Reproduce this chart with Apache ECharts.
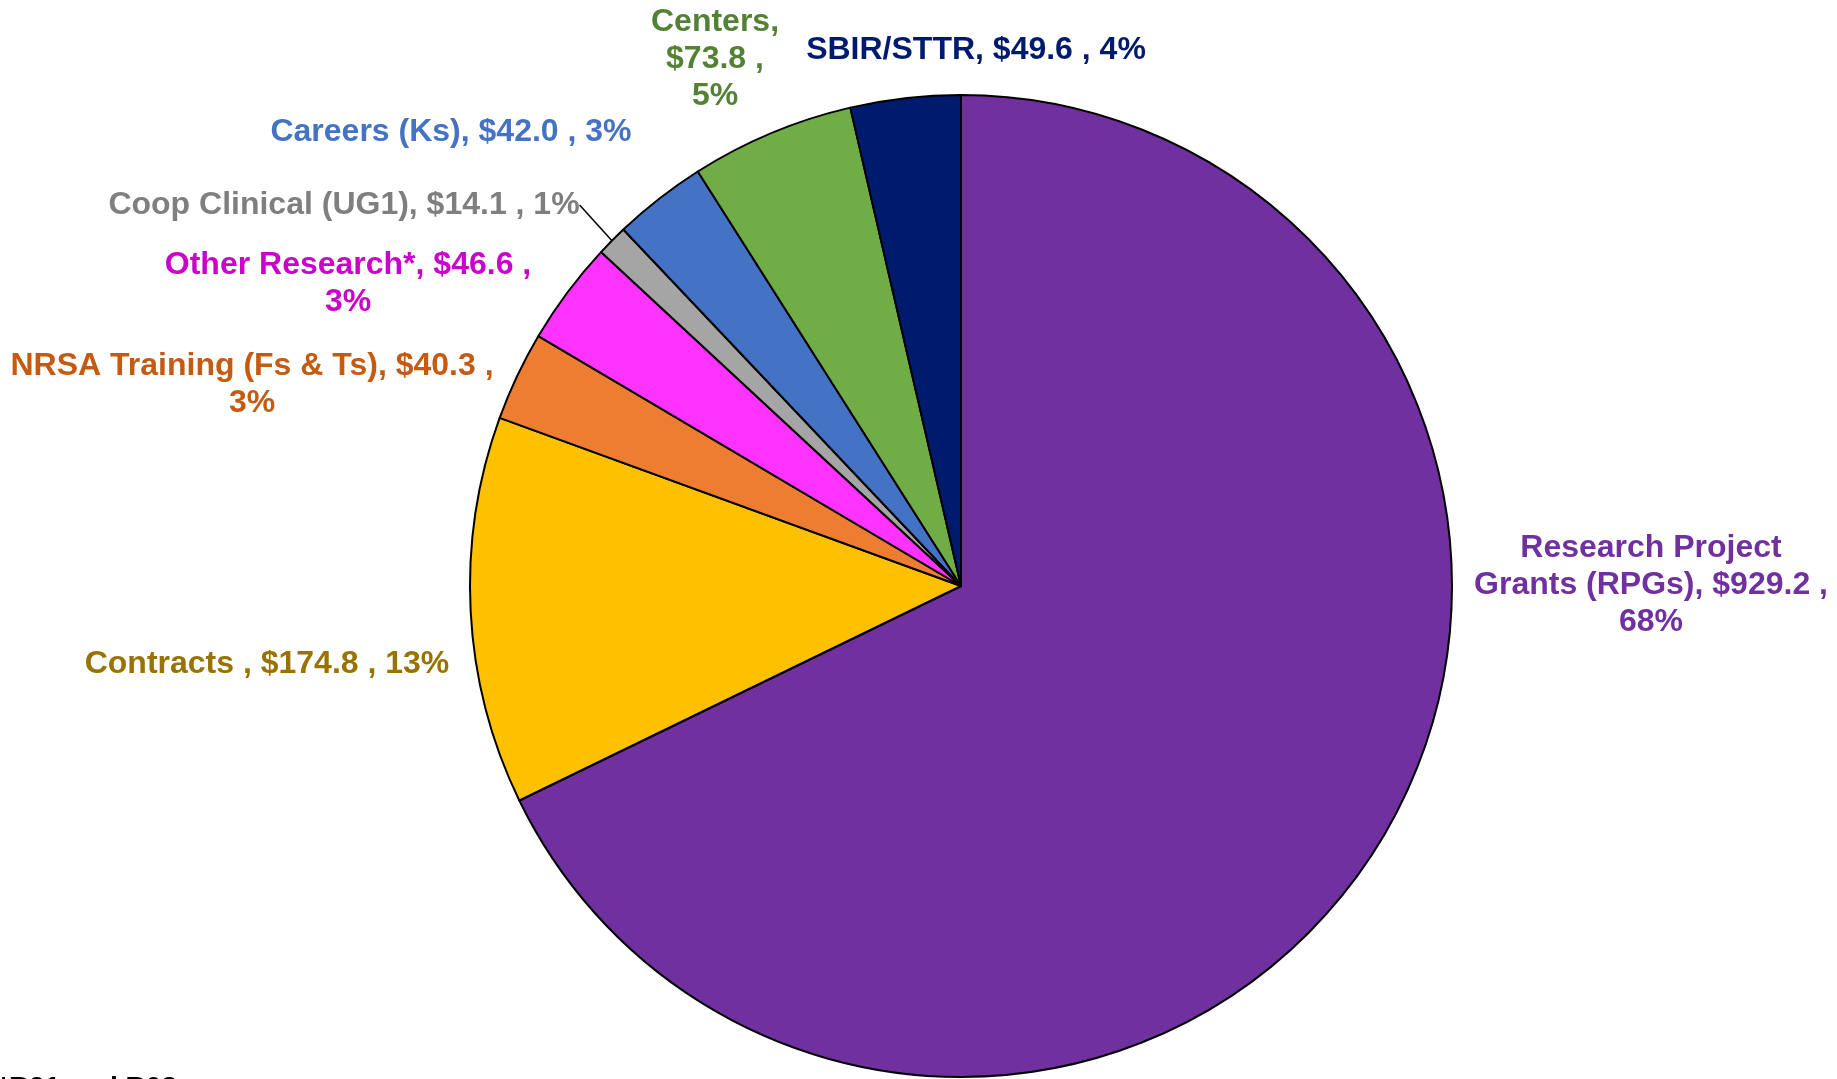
<!DOCTYPE html>
<html>
<head>
<meta charset="utf-8">
<script src="https://cdn.jsdelivr.net/npm/echarts@6/dist/echarts.min.js"></script>
<style>
  html, body { margin: 0; padding: 0; background: #fff; }
  #chart { width: 1837px; height: 1079px; }
</style>
</head>
<body>
<div id="chart"></div>
<script>
// budget categories, clockwise from 12 o'clock
var categories = ['Research Project Grants (RPGs)', 'Contracts ', 'NRSA Training (Fs & Ts)', 'Other Research*',
                  'Coop Clinical (UG1)', 'Careers (Ks)', 'Centers', 'SBIR/STTR'];
var values = [929.2, 174.8, 40.3, 46.6, 14.1, 42.0, 73.8, 49.6];
// where each label wraps: {n} = name, {v} = value, {p} = percent
var labelTemplates = [
    'Research Project\nGrants (RPGs), ${v} ,\n{p}%',
    '{n}, ${v} , {p}%',
    '{n}, ${v} ,\n{p}%',
    '{n}, ${v} ,\n{p}%',
    '{n}, ${v} , {p}%',
    '{n}, ${v} , {p}%',
    '{n},\n${v} ,\n{p}%',
    '{n}, ${v} , {p}%'
];

var sliceColors = ['#7030A0', '#FFC000', '#ED7D31', '#FF33FF', '#A5A5A5', '#4472C4', '#70AD47', '#001B6E'];
var labelColors = ['#7030A0', '#987300', '#C55A11', '#CC00CC', '#7F7F7F', '#4472C4', '#548235', '#001B6E'];
// label centres (px)
var labelPos = [[1651, 585], [267, 664], [252, 385], [348, 284], [344, 205], [451, 132], [715, 59], [976, 50]];

var myChart = echarts.init(document.getElementById('chart'));

var data = categories.map(function (name, i) {
    return {
        name: name,
        value: values[i],
        itemStyle: { color: sliceColors[i] },
        label: { color: labelColors[i] },
        labelLine: { show: i === 4 }
    };
});

var option = {
    animation: false,
    series: [{
        type: 'pie',
        center: [961, 586],
        radius: 491,
        startAngle: 90,
        clockwise: true,
        avoidLabelOverlap: false,
        percentPrecision: 0,
        minShowLabelAngle: 0,
        data: data,
        itemStyle: {
            borderColor: '#000',
            borderWidth: 2
        },
        label: {
            show: true,
            position: 'outside',
            fontFamily: '"Liberation Sans", Arial, sans-serif',
            fontWeight: 'bold',
            fontSize: 32,
            lineHeight: 37,
            align: 'center',
            formatter: function (p) {
                return labelTemplates[p.dataIndex]
                    .replace('{n}', p.name)
                    .replace('{v}', p.value.toFixed(1))
                    .replace('{p}', Math.round(p.percent));
            }
        },
        labelLine: {
            lineStyle: { color: '#000', width: 1.5 },
            length: 10,
            length2: 0
        },
        labelLayout: function (p) {
            var pos = labelPos[p.dataIndex];
            return {
                x: pos[0],
                y: pos[1],
                align: 'center',
                verticalAlign: 'middle'
            };
        }
    }],
    // footnote, cut off by the bottom edge as in the original
    graphic: [{
        type: 'text',
        left: -2,
        top: 1074,
        style: {
            text: '*R21 and R03',
            font: 'bold 28px "Liberation Sans", Arial, sans-serif',
            fill: '#000'
        }
    }]
};

myChart.setOption(option);
</script>
</body>
</html>
